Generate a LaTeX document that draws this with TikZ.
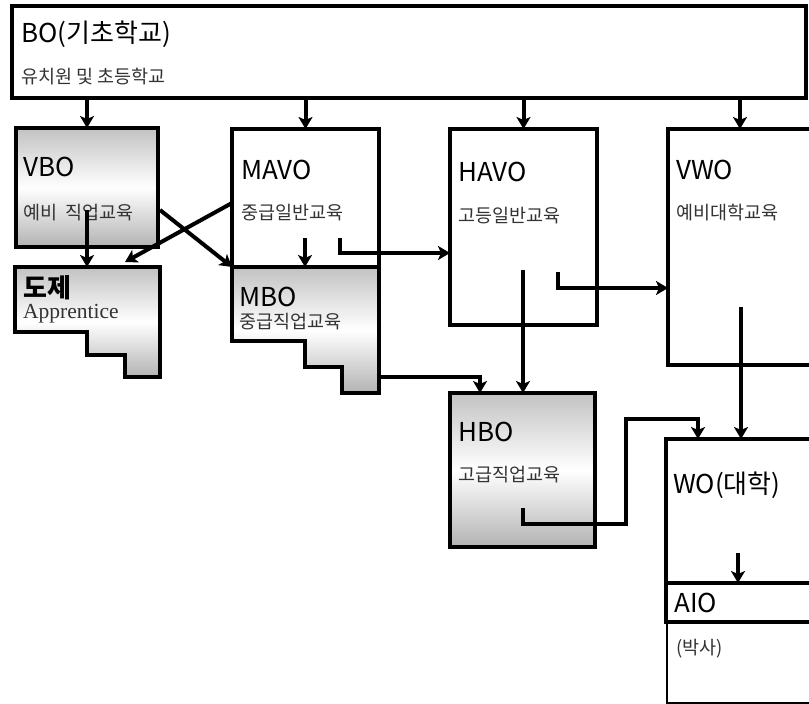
\documentclass[tikz,border=0pt]{standalone}
\usepackage{fontspec}
\setmainfont{Liberation Serif}
\newfontfamily\kr{Noto Sans CJK KR}
\usetikzlibrary{arrows.meta,calc}
\tikzset{
  box/.style={draw,rectangle,line width=4pt,anchor=north west,inner sep=0pt,outer sep=0pt},
  shade3/.style={top color=black!24,bottom color=black!30,middle color=white},
  graybox/.style={box,shade3},
  stairbox/.style={draw,line width=4pt,shade3},
  ttl/.style={anchor=west,inner sep=0pt,font=\kr\fontsize{26}{28}\selectfont},
  ttlb/.style={ttl,font=\kr\bfseries\fontsize{26}{28}\selectfont},
  sub/.style={anchor=west,inner sep=0pt,text=black!80,font=\kr\fontsize{18.5}{20}\selectfont},
  arr/.style={line width=4pt,-{Stealth[length=12pt,width=14pt,inset=3pt]}},
}
\begin{document}
\begin{tikzpicture}[x=1pt,y=-1pt]
  \clip (0,0) rectangle (809,704);
  \fill[white] (0,0) rectangle (809,704);
  % boxes
  \node[box,minimum width=794,minimum height=92] (bo) at (12,6) {};
  \node[graybox,minimum width=142,minimum height=119] (vbo) at (16,128) {};
  \node[box,minimum width=147,minimum height=138] (mavo) at (232,129) {};
  \node[box,minimum width=147,minimum height=196] (havo) at (450,129) {};
  \node[box,minimum width=144,minimum height=236] (vwo) at (668,129) {};
  \node[graybox,minimum width=145,minimum height=154] (hbo) at (450,393) {};
  \node[box,line width=2pt,minimum width=145,minimum height=81] (phd) at (667,622) {};
  \node[box,minimum width=146,minimum height=183] (wo) at (666,439) {};
  \node[box,minimum width=146,minimum height=39] (aio) at (666,583) {};
  % stair shapes
  \draw[stairbox] (15,267) coordinate (doje-nw) -- (15,332) -- (87,332) -- (87,355)
    -- (125,355) -- (125,377) -- (160,377) -- (160,267) -- cycle;
  \draw[stairbox] (232,267) coordinate (mbo-nw) -- (232,341) -- (305,341) -- (305,367)
    -- (342,367) -- (342,393) -- (379,393) -- (379,267) -- cycle;
  % labels
  \node[ttl] (bo-t) at (21,34) {BO(기초학교)};
  \node[sub] (bo-s) at (21,77) {유치원 및 초등학교};
  \node[ttl] (vbo-t) at (23,167) {VBO};
  \node[sub] (vbo-s) at (23,213) {예비~~직업교육};
  \node[ttl] (mavo-t) at (241,170) {MAVO};
  \node[sub] (mavo-s) at (241,213) {중급일반교육};
  \node[ttl] (havo-t) at (458,172) {HAVO};
  \node[sub] (havo-s) at (458,216) {고등일반교육};
  \node[ttl] (vwo-t) at (676,170) {VWO};
  \node[sub] (vwo-s) at (676,213) {예비대학교육};
  \node[ttlb] (doje-t) at (23,288) {도제};
  \node[anchor=west,inner sep=0pt,text=black!80,font=\fontsize{21.5}{23}\selectfont] (doje-s) at (23,314) {Apprentice};
  \node[ttl] (mbo-t) at (239,297) {MBO};
  \node[sub] (mbo-s) at (239,322) {중급직업교육};
  \node[ttl] (hbo-t) at (458,432) {HBO};
  \node[sub] (hbo-s) at (458,475) {고급직업교육};
  \node[ttl] (wo-t) at (673,485) {WO(대학)};
  \node[ttl] (aio-t) at (674,603) {AIO};
  \node[sub] (phd-s) at (676,649) {(박사)};
  % arrow starts
  \coordinate (vbo-o) at (87,210);
  \coordinate (vbo-o2) at (160,210);
  \coordinate (mavo-o1) at (232,203);
  \coordinate (mavo-o2) at (305,238);
  \coordinate (mavo-o3) at (340,238);
  \coordinate (doje-in) at (125,262);
  \coordinate (havo-o1) at (523,270);
  \coordinate (havo-o2) at (558,272);
  \coordinate (vwo-o) at (741,307);
  \coordinate (mbo-o) at (379,377);
  \coordinate (hbo-o) at (523,508);
  \coordinate (wo-o) at (738,553);
  % arrows
  \foreach \b in {vbo,mavo,havo,vwo}
    \draw[arr] (bo.south -| \b.north) -- (\b.north);
  \draw[arr] (vbo-o) -- (vbo-o |- doje-nw);
  \draw[arr] (mavo-o1) -- (doje-in);
  \draw[arr] (vbo-o2) -- (mbo-nw);
  \draw[arr] (mavo-o2) -- (mavo-o2 |- mbo-nw);
  \draw[arr] (mavo-o3) |- ($(havo.north west)+(0,124)$);
  \draw[arr] (havo-o1) -- (havo-o1 |- hbo.north);
  \draw[arr] (havo-o2) |- ($(vwo.north west)+(0,159)$);
  \draw[arr] (mbo-o) -| ($(hbo.north west)+(30,0)$);
  \draw[arr] (vwo-o) -- (vwo-o |- wo.north);
  \draw[arr] (hbo-o) -- ++(0,16) -| ++(103,-105) -| ($(wo.north west)+(32,0)$);
  \draw[arr] (wo-o) -- (wo-o |- aio.north);
\end{tikzpicture}
\end{document}
